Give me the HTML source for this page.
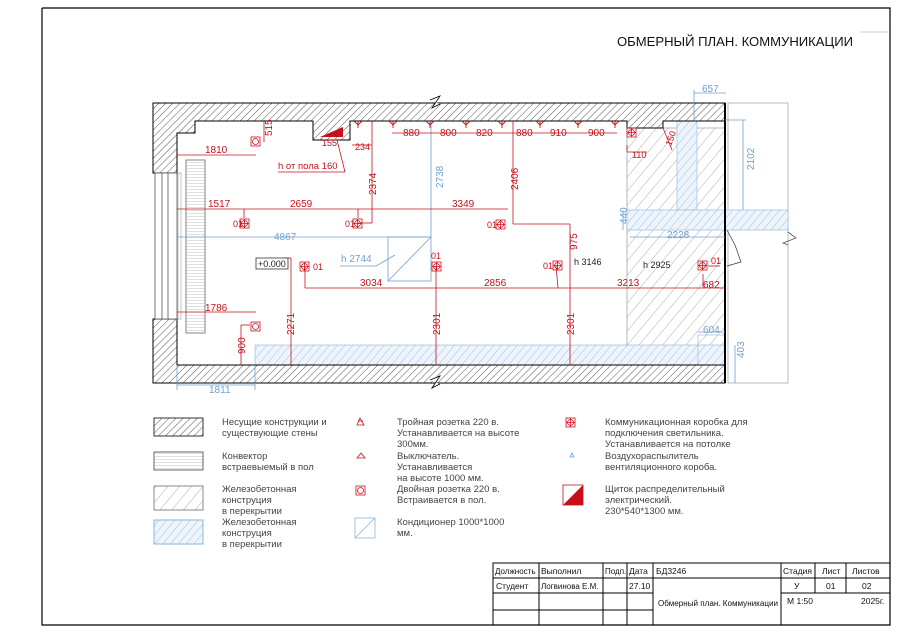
<!DOCTYPE html>
<html><head><meta charset="utf-8"><style>
html,body{margin:0;padding:0;background:#fff;}
svg{display:block;font-family:"Liberation Sans","DejaVu Sans",sans-serif;}
.r{fill:#c8101a;font-size:10px;}
.b{fill:#6f9fd0;font-size:10px;}
.k{fill:#222;font-size:9px;}
.lg{fill:#444;font-size:9.5px;}
.tb{fill:#111;font-size:8.5px;}
</style></head><body>
<svg width="900" height="633" viewBox="0 0 900 633" xmlns="http://www.w3.org/2000/svg">
<defs>
<pattern id="hk" width="5" height="5" patternUnits="userSpaceOnUse" patternTransform="rotate(45)"><rect width="5" height="5" fill="#fff"/><line x1="0" y1="0" x2="0" y2="5" stroke="#555" stroke-width="1"/></pattern>
<pattern id="hg" width="9" height="9" patternUnits="userSpaceOnUse" patternTransform="rotate(40)"><line x1="0" y1="0" x2="0" y2="9" stroke="#999" stroke-width="0.8"/></pattern>
<pattern id="hb" width="6" height="6" patternUnits="userSpaceOnUse" patternTransform="rotate(40)"><rect width="6" height="6" fill="#eef4fb"/><line x1="0" y1="0" x2="0" y2="6" stroke="#8cb4dc" stroke-width="0.8"/></pattern>
<pattern id="hc" width="4" height="3" patternUnits="userSpaceOnUse"><rect width="4" height="3" fill="#fff"/><line x1="0" y1="0" x2="4" y2="0" stroke="#999" stroke-width="0.6"/></pattern>
</defs>
<polyline points="42,8 890,8 890,625 42,625 42,8" fill="none" stroke="#000" stroke-width="1.2"/>
<line x1="860" y1="32" x2="890" y2="32" stroke="#999" stroke-width="0.6"/>
<text x="617" y="46" style="font-size:13px;fill:#111;" textLength="236" lengthAdjust="spacingAndGlyphs">ОБМЕРНЫЙ ПЛАН. КОММУНИКАЦИИ</text>

<rect x="728" y="103" width="60" height="280" fill="none" stroke="#aaa" stroke-width="0.8"/>
<rect x="627" y="128" width="98" height="237" fill="url(#hg)" stroke="#888" stroke-width="0.6"/>
<rect x="677" y="121" width="20" height="89" fill="url(#hb)" stroke="#8cb4dc" stroke-width="0.6"/>
<rect x="627" y="210" width="161" height="20" fill="url(#hb)" stroke="#8cb4dc" stroke-width="0.6"/>
<rect x="255" y="345" width="470" height="20" fill="url(#hb)" stroke="#8cb4dc" stroke-width="0.6"/>
<rect x="698" y="335" width="27" height="30" fill="none" stroke="#8cb4dc" stroke-width="0.6"/>
<path d="M153,103 L725,103 L725,121 L663,121 L663,128 L627,128 L627,121 L350,121 L350,140 L313,140 L313,121 L195,121 L195,133 L177,133 L177,173 L153,173 Z" fill="url(#hk)" stroke="#000" stroke-width="1"/>
<path d="M153,319 L177,319 L177,365 L725,365 L725,383 L153,383 Z" fill="url(#hk)" stroke="#000" stroke-width="1"/>
<line x1="725" y1="103" x2="725" y2="383" stroke="#000" stroke-width="2"/>
<path d="M430,100 L440,96 L432,108 L440,104" fill="#fff" stroke="#000" stroke-width="0.8"/>
<path d="M430,380 L440,376 L432,388 L440,384" fill="#fff" stroke="#000" stroke-width="0.8"/>
<path d="M788,232 L796,238 L783,243 L788,245" fill="none" stroke="#555" stroke-width="0.8"/>
<rect x="155" y="173" width="22" height="146" fill="#fff" stroke="#555" stroke-width="0.8"/>
<line x1="162" y1="173" x2="162" y2="319" stroke="#555" stroke-width="0.8"/>
<line x1="168" y1="173" x2="168" y2="319" stroke="#555" stroke-width="0.8"/>
<rect x="178" y="173" width="3" height="146" fill="none" stroke="#888" stroke-width="0.5"/>
<rect x="186" y="160" width="19" height="173" fill="url(#hc)" stroke="#666" stroke-width="0.8"/>
<polygon points="320,137 343,127 343,137" fill="#c8101a"/>
<text x="322" y="146" class="r" style="font-size:9px">155</text>
<path d="M727,230 L735,245 L741,262 L727,266" fill="none" stroke="#333" stroke-width="0.7"/>

<g stroke="#6f9fd0" stroke-width="0.8" fill="none">
<line x1="431" y1="121" x2="431" y2="237"/><line x1="177" y1="237" x2="431" y2="237"/>
<rect x="388" y="237" width="43" height="44"/><line x1="388" y1="281" x2="431" y2="237"/>
<path d="M340,266 L376,266 L395,255"/>
<line x1="694" y1="93" x2="726" y2="93"/><line x1="694" y1="90" x2="694" y2="121"/>
<line x1="743" y1="120" x2="743" y2="210"/><line x1="725" y1="120" x2="746" y2="120"/>
<line x1="623" y1="210" x2="623" y2="230"/>
<line x1="630" y1="237" x2="725" y2="237"/>
<line x1="698" y1="332" x2="725" y2="332"/>
<line x1="735" y1="345" x2="735" y2="383"/>
<line x1="177" y1="385" x2="255" y2="385"/><line x1="177" y1="365" x2="177" y2="390"/><line x1="255" y1="365" x2="255" y2="390"/>
</g>
<text x="423" y="192" class="b" transform="rotate(-90 431 180)">2738</text>
<text x="274" y="240" class="b">4867</text>
<text x="341" y="262" class="b">h  2744</text>
<text x="702" y="92" class="b">657</text>
<text x="740" y="176" class="b" transform="rotate(-90 744 166)">2102</text>
<text x="614" y="225" class="b" transform="rotate(-90 620 218)">440</text>
<text x="667" y="238" class="b">2228</text>
<text x="703" y="333" class="b">604</text>
<text x="730" y="360" class="b" transform="rotate(-90 736 352)">403</text>
<text x="209" y="393" class="b">1811</text>

<g stroke="#c8101a" stroke-width="0.8" fill="none">
<line x1="177" y1="155" x2="256" y2="155"/>
<line x1="264" y1="121" x2="264" y2="142"/>
<line x1="177" y1="209" x2="508" y2="209"/>
<line x1="372" y1="121" x2="372" y2="223"/><line x1="358" y1="223" x2="372" y2="223"/>
<line x1="352" y1="145" x2="372" y2="145"/>
<line x1="278" y1="172" x2="345" y2="172"/><line x1="337" y1="140" x2="345" y2="172"/>
<line x1="392" y1="133" x2="617" y2="133"/>
<line x1="513" y1="121" x2="513" y2="224"/><line x1="513" y1="224" x2="570" y2="224"/>
<line x1="570" y1="224" x2="570" y2="365"/>
<line x1="305" y1="288" x2="725" y2="288"/>
<line x1="291" y1="258" x2="291" y2="365"/><line x1="285" y1="258" x2="291" y2="258"/>
<line x1="436" y1="266" x2="436" y2="365"/>
<line x1="177" y1="312" x2="256" y2="312"/>
<line x1="241" y1="325" x2="241" y2="365"/><line x1="241" y1="325" x2="250" y2="325"/>
<line x1="627" y1="145" x2="627" y2="152"/><line x1="627" y1="152" x2="647" y2="152"/>
<line x1="663" y1="128" x2="672" y2="150"/>
<line x1="556" y1="266" x2="558" y2="288"/>
<line x1="703" y1="274" x2="703" y2="288"/><line x1="708" y1="266" x2="720" y2="266"/>
<line x1="244" y1="209" x2="244" y2="218"/><line x1="358" y1="209" x2="358" y2="218"/>
<line x1="305" y1="267" x2="305" y2="288"/>
</g>
<g stroke="#c8101a" stroke-width="0.9" fill="none">
<path d="M393,121 v7 M389,121 l4,4 l4,-4"/><path d="M430,121 v7 M426,121 l4,4 l4,-4"/>
<path d="M466,121 v7 M462,121 l4,4 l4,-4"/><path d="M502,121 v7 M498,121 l4,4 l4,-4"/>
<path d="M540,121 v7 M536,121 l4,4 l4,-4"/><path d="M578,121 v7 M574,121 l4,4 l4,-4"/>
<path d="M615,121 v7 M611,121 l4,4 l4,-4"/><path d="M358,121 v7 M354,121 l4,4 l4,-4"/>
</g>
<g stroke="#c8101a" stroke-width="0.8" fill="none">
<rect x="251" y="137" width="9" height="9"/><circle cx="255.5" cy="141.5" r="3"/>
<rect x="251" y="322" width="9" height="9"/><circle cx="255.5" cy="326.5" r="3"/>
<rect x="240" y="219" width="9" height="9"/><circle cx="244.5" cy="223.5" r="3"/><path d="M244.5,219v9M240,223.5h9"/>
<rect x="353" y="219" width="9" height="9"/><circle cx="357.5" cy="223.5" r="3"/><path d="M357.5,219v9M353,223.5h9"/>
<rect x="496" y="220" width="9" height="9"/><circle cx="500.5" cy="224.5" r="3"/><path d="M500.5,220v9M496,224.5h9"/>
<rect x="432" y="262" width="9" height="9"/><circle cx="436.5" cy="266.5" r="3"/><path d="M436.5,262v9M432,266.5h9"/>
<rect x="300" y="262" width="9" height="9"/><circle cx="304.5" cy="266.5" r="3"/><path d="M304.5,262v9M300,266.5h9"/>
<rect x="553" y="261" width="9" height="9"/><circle cx="557.5" cy="265.5" r="3"/><path d="M557.5,261v9M553,265.5h9"/>
<rect x="698" y="261" width="9" height="9"/><circle cx="702.5" cy="265.5" r="3"/><path d="M702.5,261v9M698,265.5h9"/>
<rect x="627" y="128" width="9" height="9"/><circle cx="631.5" cy="132.5" r="3"/><path d="M631.5,128v9M627,132.5h9"/>
</g>
<g class="r">
<text x="205" y="153">1810</text>
<text x="258" y="138" transform="rotate(-90 264 130)">515</text>
<text x="355" y="150" style="font-size:9px">234</text>
<text x="278" y="169" style="font-size:9.5px">h  от  пола  160</text>
<text x="355" y="182" transform="rotate(-90 372 178)">2374</text>
<text x="208" y="207">1517</text>
<text x="290" y="207">2659</text>
<text x="452" y="207">3349</text>
<text x="403" y="136">880</text><text x="440" y="136">800</text><text x="476" y="136">820</text>
<text x="516" y="136">880</text><text x="550" y="136">910</text><text x="588" y="136">900</text>
<text x="500" y="180" transform="rotate(-90 514 176)">2406</text>
<text x="563" y="250" transform="rotate(-90 570 243)">975</text>
<text x="360" y="286">3034</text><text x="484" y="286">2856</text><text x="617" y="286">3213</text><text x="703" y="288">682</text>
<text x="273" y="322" transform="rotate(-90 290 318)">2271</text>
<text x="419" y="322" transform="rotate(-90 436 318)">2301</text>
<text x="553" y="322" transform="rotate(-90 570 318)">2301</text>
<text x="205" y="311">1786</text>
<text x="231" y="350" transform="rotate(-90 240 345)">900</text>
<text x="632" y="158" style="font-size:9px">110</text>
<text x="663" y="145" transform="rotate(-70 668 140)" style="font-size:9px">150</text>
<text x="233" y="227" style="font-size:9px">01</text><text x="345" y="227" style="font-size:9px">01</text>
<text x="487" y="228" style="font-size:9px">01</text><text x="431" y="259" style="font-size:9px">01</text>
<text x="313" y="270" style="font-size:9px">01</text><text x="543" y="269" style="font-size:9px">01</text>
<text x="711" y="264" style="font-size:9px">01</text>
</g>
<rect x="256" y="258" width="32" height="11" fill="#fff" stroke="#333" stroke-width="0.8"/>
<text x="258" y="267" class="k">+0.000</text>
<text x="574" y="265" class="k">h  3146</text>
<text x="643" y="268" class="k">h  2925</text>

<rect x="154" y="418" width="49" height="18" fill="url(#hk)" stroke="#333"/>
<rect x="154" y="452" width="49" height="18" fill="url(#hc)" stroke="#666"/>
<rect x="154" y="486" width="49" height="24" fill="url(#hg)" stroke="#888"/>
<rect x="154" y="520" width="49" height="24" fill="url(#hb)" stroke="#8cb4dc"/>
<g class="lg">
<text x="222" y="425">Несущие конструкции и</text><text x="222" y="436">существующие стены</text>
<text x="222" y="459">Конвектор</text><text x="222" y="470">встраевыемый в пол</text>
<text x="222" y="492">Железобетонная</text><text x="222" y="503">конструция</text><text x="222" y="514">в перекрытии</text>
<text x="222" y="525">Железобетонная</text><text x="222" y="536">конструция</text><text x="222" y="547">в перекрытии</text>
<text x="397" y="425">Тройная розетка 220 в.</text><text x="397" y="436">Устанавливается на высоте</text><text x="397" y="447">300мм.</text>
<text x="397" y="459">Выключатель.</text><text x="397" y="470">Устанавливается</text><text x="397" y="481">на высоте 1000  мм.</text>
<text x="397" y="492">Двойная розетка 220 в.</text><text x="397" y="503">Встраивается в пол.</text>
<text x="397" y="525">Кондиционер 1000*1000</text><text x="397" y="536">мм.</text>
<text x="605" y="425">Коммуникационная коробка для</text><text x="605" y="436">подключения светильника.</text><text x="605" y="447">Устанавливается на потолке</text>
<text x="605" y="459">Воздухораспылитель</text><text x="605" y="470">вентиляционного короба.</text>
<text x="605" y="492">Щиток распределительный</text><text x="605" y="503">электрический.</text><text x="605" y="514">230*540*1300  мм.</text>
</g>
<g stroke="#c8101a" stroke-width="0.8" fill="none">
<path d="M360,418 l-3,7 h7 z M358,421 h5"/>
<path d="M357,458 l4,-5 l4,5 z"/>
<rect x="356" y="486" width="9" height="9"/><circle cx="360.5" cy="490.5" r="3"/>
<rect x="566" y="418" width="9" height="9"/><circle cx="570.5" cy="422.5" r="3"/><path d="M570.5,418v9M566,422.5h9"/>
</g>
<path d="M570,457 l2,-4 l2,4 z" fill="none" stroke="#6f9fd0" stroke-width="0.8"/>
<rect x="355" y="518" width="20" height="20" fill="none" stroke="#8cb4dc" stroke-width="0.8"/><line x1="355" y1="538" x2="375" y2="518" stroke="#8cb4dc" stroke-width="0.8"/>
<rect x="563" y="485" width="20" height="20" fill="#fff" stroke="#c8101a" stroke-width="0.8"/><polygon points="563,505 583,485 583,505" fill="#c8101a"/>

<g stroke="#000" stroke-width="1" fill="none">
<rect x="493" y="563" width="397" height="62"/>
<line x1="493" y1="578" x2="890" y2="578"/>
<line x1="493" y1="593" x2="653" y2="593"/><line x1="781" y1="593" x2="890" y2="593"/>
<line x1="493" y1="610" x2="653" y2="610"/>
<line x1="539" y1="563" x2="539" y2="625"/><line x1="603" y1="563" x2="603" y2="625"/>
<line x1="627" y1="563" x2="627" y2="625"/><line x1="653" y1="563" x2="653" y2="625"/>
<line x1="781" y1="563" x2="781" y2="625"/><line x1="815" y1="563" x2="815" y2="593"/><line x1="846" y1="563" x2="846" y2="593"/>
</g>
<g class="tb">
<text x="495" y="574" style="font-size:8px">Должность</text><text x="541" y="574">Выполнил</text><text x="605" y="574" style="font-size:8px">Подп.</text><text x="629" y="574">Дата</text><text x="656" y="574">БД3246</text>
<text x="783" y="574">Стадия</text><text x="822" y="574">Лист</text><text x="852" y="574">Листов</text>
<text x="496" y="589">Студент</text><text x="541" y="589" style="font-size:8px">Логвинова  Е.М.</text><text x="629" y="589">27.10</text>
<text x="794" y="589">У</text><text x="826" y="589">01</text><text x="862" y="589">02</text>
<text x="658" y="606" style="font-size:8px" textLength="120" lengthAdjust="spacingAndGlyphs">Обмерный  план.  Коммуникации</text>
<text x="787" y="604">М 1:50</text><text x="861" y="604">2025г.</text>
</g>
</svg>
</body></html>
